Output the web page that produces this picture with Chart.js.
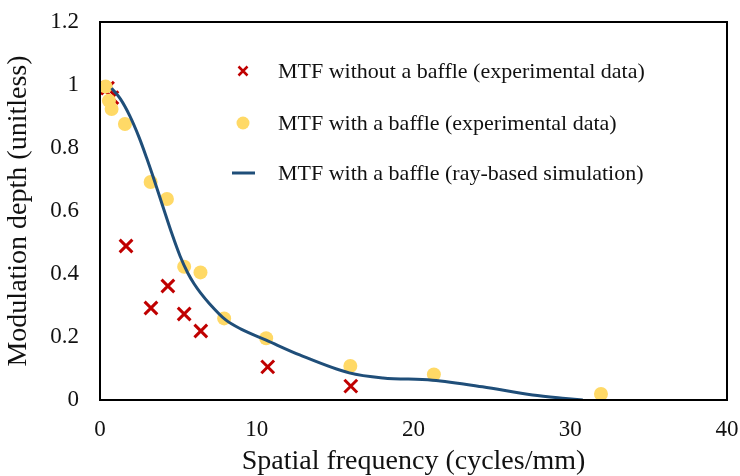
<!DOCTYPE html>
<html>
<head>
<meta charset="utf-8">
<script src="https://cdn.jsdelivr.net/npm/chart.js@4/dist/chart.umd.min.js"></script>
<style>
  html, body { margin: 0; padding: 0; background: #fff; }
  #wrap { width: 740px; height: 476px; position: relative; }
</style>
</head>
<body>
<div id="wrap"><canvas id="mtf"></canvas></div>
<script>
// ---------- Data ----------
const noBaffleX = [0.48, 0.76, 1.66, 3.25, 4.33, 5.37, 6.43, 10.7, 16.0];
const noBaffleY = [0.99, 0.96, 0.489, 0.292, 0.362, 0.273, 0.219, 0.105, 0.044];

const baffleX = [0.36, 0.57, 0.74, 1.59, 3.23, 4.27, 5.37, 6.41, 7.92, 10.6, 15.97, 21.3, 31.96];
const baffleY = [0.995, 0.95, 0.924, 0.876, 0.692, 0.638, 0.423, 0.405, 0.259, 0.196, 0.108, 0.081, 0.019];

// simulated curve, traced point by point
const simX = [0.74, 1.3, 1.9, 2.5, 3.0, 3.4, 4.0, 4.6, 5.1, 5.6, 6.0, 6.4, 7.0, 8.0, 9.0, 10.6, 12.74, 15.9, 18.05, 21.2, 24.4, 27.6, 29.7, 30.8];
const simY = [0.99, 0.956, 0.902, 0.833, 0.765, 0.707, 0.616, 0.526, 0.458, 0.403, 0.369, 0.341, 0.305, 0.255, 0.225, 0.19, 0.143, 0.086, 0.07, 0.063, 0.042, 0.016, 0.005, 0.0];

const seriesLabels = [
  "MTF without a baffle (experimental data)",
  "MTF with a baffle (experimental data)",
  "MTF with a baffle (ray-based simulation)"
];

const xTitle = "Spatial frequency (cycles/mm)";
const yTitle = "Modulation depth (unitless)";

const RED = "#C00000";
const GOLD = "#FFD966";
const BLUE = "#1F4E79";
const FONT = "'Liberation Serif', 'Times New Roman', serif";

const pts = (xs, ys) => xs.map((x, i) => ({ x: x, y: ys[i] }));

// ---------- Plugins ----------
// box around the plot area
const frame = {
  id: "frame",
  afterDraw(chart) {
    const { ctx, chartArea: a } = chart;
    ctx.save();
    ctx.strokeStyle = "#000";
    ctx.lineWidth = 2;
    ctx.strokeRect(a.left, a.top, a.right - a.left, a.bottom - a.top);
    ctx.restore();
  }
};

// legend drawn inside the plot, like the original
const insideLegend = {
  id: "insideLegend",
  afterDraw(chart) {
    const { ctx } = chart;
    const mx = 243, tx = 278;
    const rows = [71, 123, 173];
    ctx.save();
    ctx.font = "22px " + FONT;
    ctx.textBaseline = "middle";
    ctx.textAlign = "left";
    rows.forEach((y, i) => {
      if (i === 0) {
        ctx.strokeStyle = RED;
        ctx.lineWidth = 2.5;
        ctx.beginPath();
        ctx.moveTo(mx - 4.5, y - 4.5); ctx.lineTo(mx + 4.5, y + 4.5);
        ctx.moveTo(mx + 4.5, y - 4.5); ctx.lineTo(mx - 4.5, y + 4.5);
        ctx.stroke();
      } else if (i === 1) {
        ctx.fillStyle = GOLD;
        ctx.beginPath();
        ctx.arc(mx, y, 6.5, 0, Math.PI * 2);
        ctx.fill();
      } else {
        ctx.strokeStyle = BLUE;
        ctx.lineWidth = 3;
        ctx.beginPath();
        ctx.moveTo(mx - 11, y); ctx.lineTo(mx + 12, y);
        ctx.stroke();
      }
      ctx.fillStyle = "#111";
      ctx.fillText(seriesLabels[i], tx, y + 1);
    });
    ctx.restore();
  }
};

// ---------- Chart ----------
new Chart(document.getElementById("mtf"), {
  type: "scatter",
  data: {
    datasets: [
      {
        label: seriesLabels[0],
        data: pts(noBaffleX, noBaffleY),
        pointStyle: "crossRot",
        pointRadius: 9,
        borderColor: RED,
        backgroundColor: RED,
        pointBorderWidth: 3,
        order: 3
      },
      {
        label: seriesLabels[1],
        data: pts(baffleX, baffleY),
        pointStyle: "circle",
        pointRadius: 7,
        borderWidth: 0,
        backgroundColor: GOLD,
        borderColor: GOLD,
        order: 2
      },
      {
        label: seriesLabels[2],
        data: pts(simX, simY),
        showLine: true,
        cubicInterpolationMode: "monotone",
        pointRadius: 0,
        borderColor: BLUE,
        borderWidth: 3,
        order: 1
      }
    ]
  },
  options: {
    responsive: true,
    maintainAspectRatio: false,
    animation: false,
    layout: { padding: 0 },
    plugins: {
      legend: { display: false },
      tooltip: { enabled: false }
    },
    scales: {
      x: {
        type: "linear",
        min: 0, max: 40,
        grid: { display: false, drawTicks: false },
        border: { display: false },
        ticks: { stepSize: 10, padding: 16, color: "#111", font: { family: FONT, size: 23 } },
        title: { display: true, text: xTitle, color: "#111", padding: { top: 0, bottom: 0 }, font: { family: FONT, size: 28, lineHeight: 1 } },
        afterFit(s) { s.height = 76; s.paddingLeft = 0; s.paddingRight = 13; }
      },
      y: {
        type: "linear",
        min: 0, max: 1.2,
        grid: { display: false, drawTicks: false },
        border: { display: false },
        ticks: { stepSize: 0.2, padding: 21, color: "#111", font: { family: FONT, size: 23 },
          callback: (v) => Number(v.toFixed(1)).toString() },
        title: { display: true, text: yTitle, color: "#111", padding: { top: 2, bottom: 0 }, font: { family: FONT, size: 28, lineHeight: 1.2 } },
        afterFit(s) { s.width = 100; s.paddingTop = 22; s.paddingBottom = 0; }
      }
    }
  },
  plugins: [frame, insideLegend]
});
</script>
</body>
</html>
